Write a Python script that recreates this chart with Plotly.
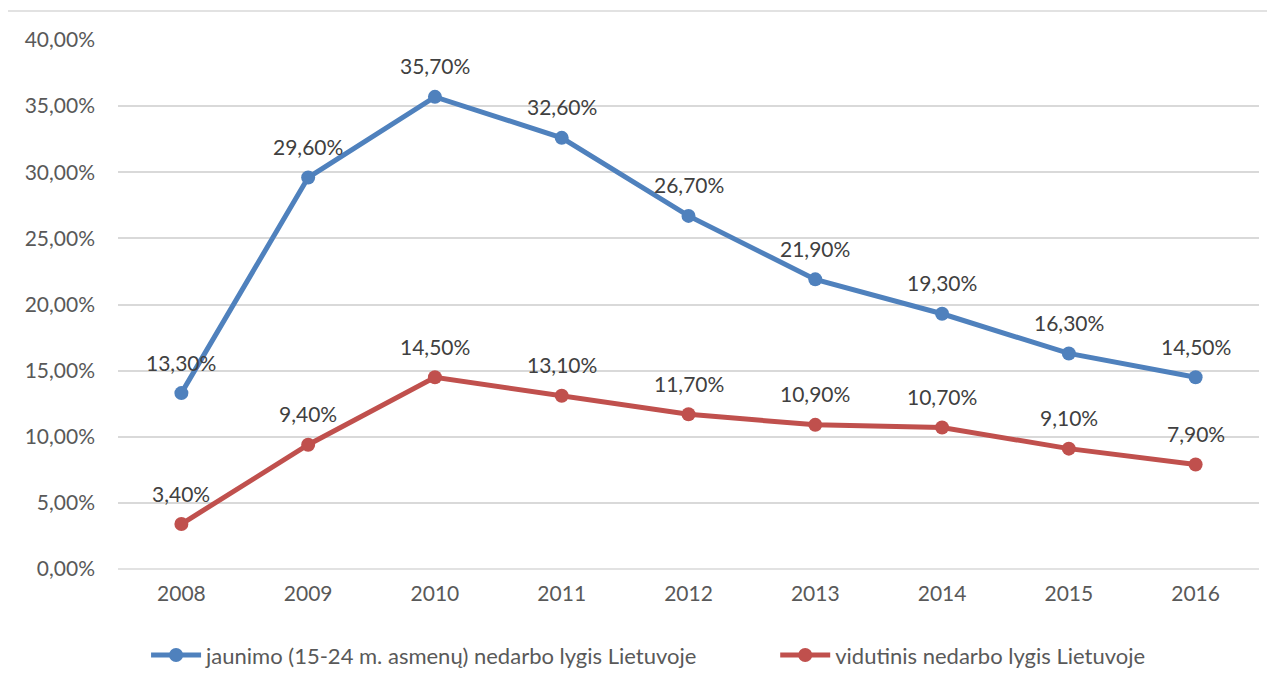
import plotly.graph_objects as go

years = ["2008", "2009", "2010", "2011", "2012", "2013", "2014", "2015", "2016"]
youth = [13.3, 29.6, 35.7, 32.6, 26.7, 21.9, 19.3, 16.3, 14.5]
average = [3.4, 9.4, 14.5, 13.1, 11.7, 10.9, 10.7, 9.1, 7.9]
names = ["jaunimo (15-24 m. asmenų) nedarbo lygis Lietuvoje",
         "vidutinis nedarbo lygis Lietuvoje"]
colors = ["#4F81BD", "#C0504D"]
yticks = [0, 5, 10, 15, 20, 25, 30, 35, 40]

FONT = "Lato"
annotations = []
fig = go.Figure()
legend_ids = ["legend", "legend2"]
for vals, name, col, lg in zip([youth, average], names, colors, legend_ids):
    fig.add_trace(go.Scatter(
        x=years, y=[v / 100 for v in vals], name=name, mode="lines+markers",
        line=dict(color=col, width=5), marker=dict(color=col, size=14),
        legend=lg, hoverinfo="skip"))
    for i, v in enumerate(vals):
        annotations.append(dict(
            x=i, y=v / 100, xref="x", yref="y",
            text=("%.2f%%" % v).replace(".", ","),
            showarrow=False, yshift=31,
            font=dict(family=FONT, size=21, color="#404040")))

leg_common = dict(orientation="h", xanchor="left", y=-0.163, yanchor="middle",
                  itemwidth=50, bgcolor="rgba(0,0,0,0)",
                  font=dict(family=FONT, size=22, color="#595959"))

fig.update_layout(
    width=1267, height=676, separators=",.",
    margin=dict(l=110, r=16, t=32, b=115, autoexpand=False),
    plot_bgcolor="white", paper_bgcolor="white",
    font=dict(family=FONT, size=21, color="#595959"),
    showlegend=True,
    annotations=annotations,
    legend=dict(x=0.0246, **leg_common),
    legend2=dict(x=0.576, **leg_common),
    xaxis=dict(type="category", range=[-0.5, 8.5], showgrid=False, showline=False,
               ticks="", ticklabelstandoff=10, tickfont=dict(size=21)),
    yaxis=dict(range=[0, 0.40], tickvals=[t / 100 for t in yticks], tickformat=".2%",
               showgrid=True, gridcolor="#D9D9D9", gridwidth=1.5, zeroline=False,
               showline=False, ticks="", ticklabelstandoff=22, tickfont=dict(size=21)),
)
fig.add_shape(type="line", xref="paper", yref="paper", x0=0, x1=1, y0=0, y1=0,
              line=dict(color="#D9D9D9", width=1.5), layer="below")
fig.add_shape(type="rect", xref="paper", yref="paper", x0=-0.0973, x1=1.0079,
              y0=-0.4, y1=1.0548, line=dict(color="#D9D9D9", width=1.5), layer="below")
fig.write_html("out.html")
